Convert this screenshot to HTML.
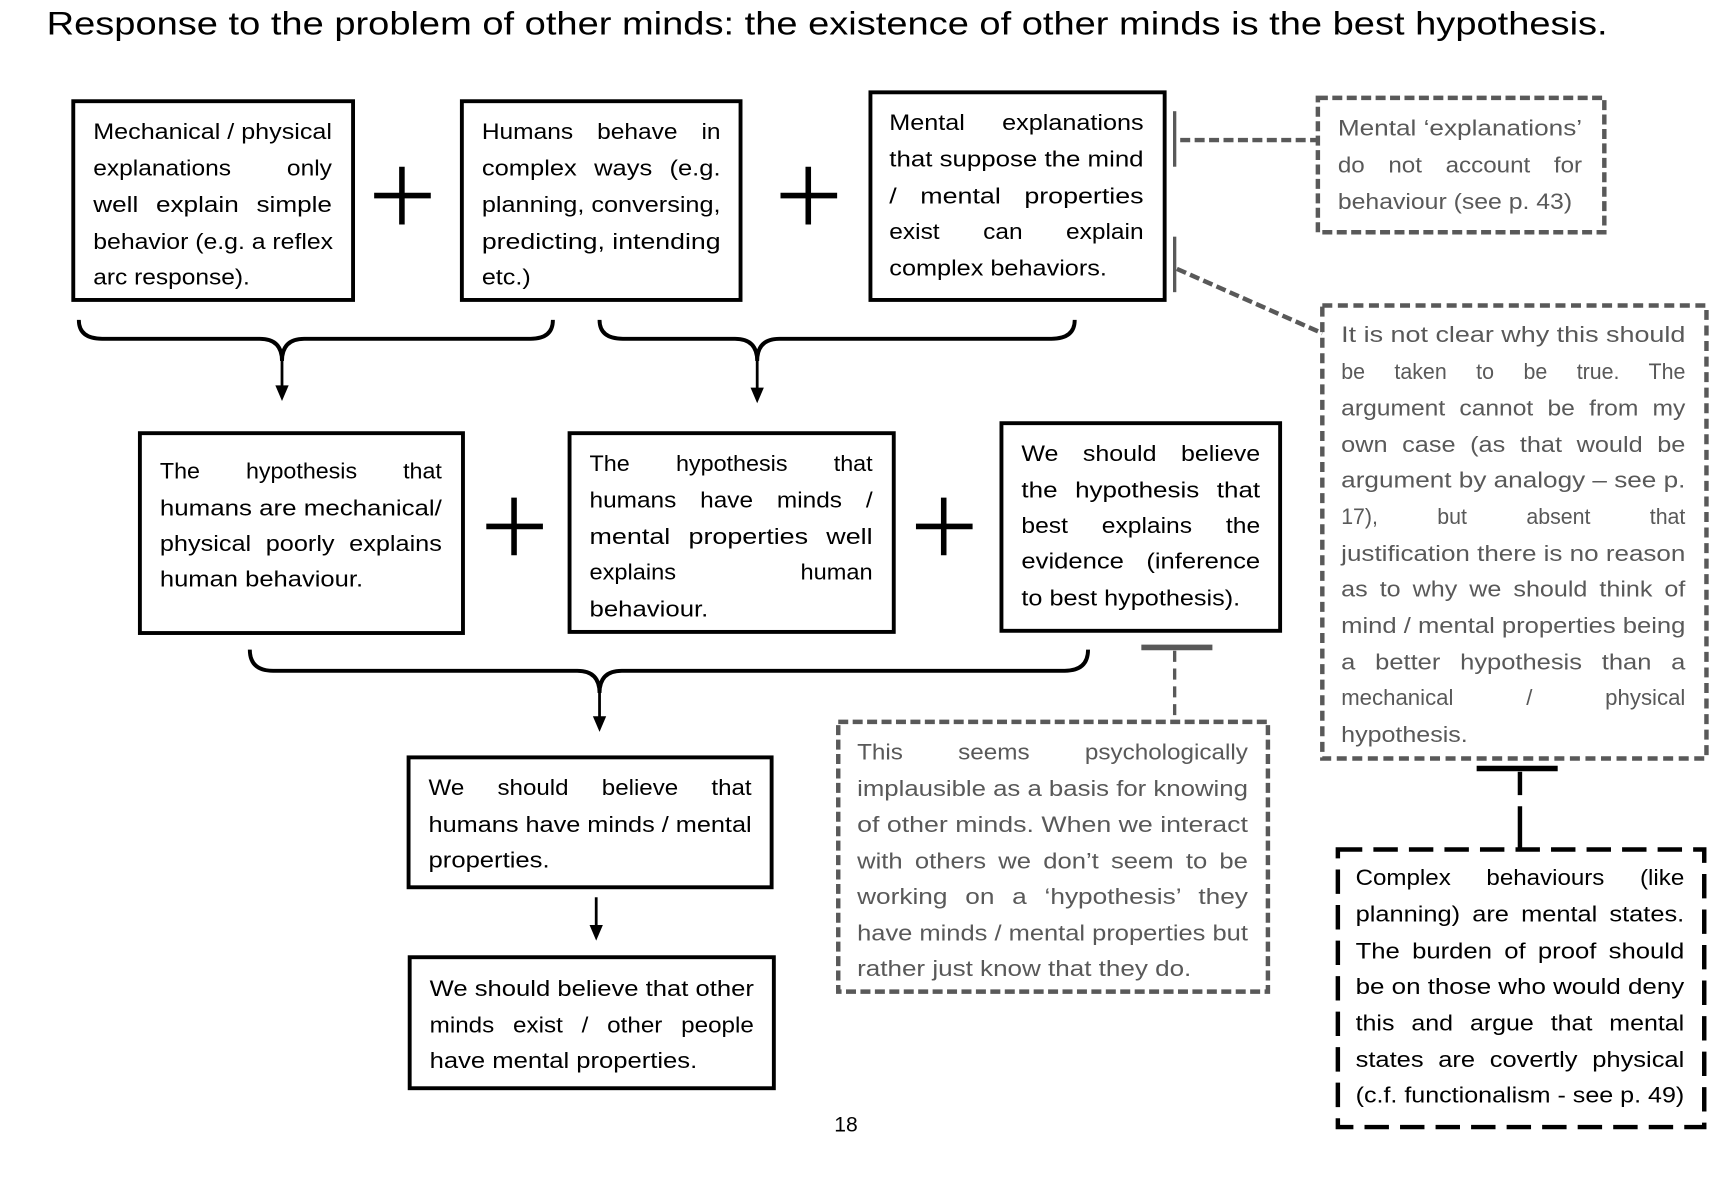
<!DOCTYPE html>
<html><head><meta charset="utf-8"><style>
html,body{margin:0;padding:0;background:#fff;}
svg{display:block;}
text{font-family:"Liberation Sans",sans-serif;font-size:20px;fill:#000;}
.g text,text.g{fill:#595959;}
</style></head><body>
<svg width="1732" height="1185" viewBox="0 0 1560 1067" xmlns="http://www.w3.org/2000/svg">
<rect x="0" y="0" width="1560" height="1067" fill="#fff"/>
<text x="42" y="31" style="font-size:29px" textLength="1406" lengthAdjust="spacingAndGlyphs">Response to the problem of other minds: the existence of other minds is the best hypothesis.</text>

<!-- solid boxes -->
<g fill="none" stroke="#000" stroke-width="3.5">
<rect x="66" y="91" width="252" height="179"/>
<rect x="416" y="91" width="251" height="179"/>
<rect x="784" y="83" width="265" height="187"/>
<rect x="126" y="390" width="291" height="180"/>
<rect x="513" y="390" width="292" height="179"/>
<rect x="902" y="381" width="251" height="187"/>
<rect x="368" y="682" width="327" height="117"/>
<rect x="369" y="862" width="328" height="118"/>
</g>
<!-- plus signs -->
<g stroke="#000" stroke-width="5">
<line x1="337" y1="176" x2="388" y2="176"/><line x1="362" y1="150" x2="362" y2="202"/>
<line x1="703" y1="176" x2="754" y2="176"/><line x1="728" y1="150" x2="728" y2="202"/>
<line x1="438" y1="474" x2="489" y2="474"/><line x1="463" y1="448" x2="463" y2="500"/>
<line x1="825" y1="474" x2="876" y2="474"/><line x1="850" y1="448" x2="850" y2="500"/>
</g>
<!-- braces -->
<g fill="none" stroke="#000" stroke-width="3.5">
<path d="M71,288 Q71,305 92,305 L234,305 Q254,305 254,325 Q254,305 274,305 L478,305 Q498,305 498,288"/>
<path d="M540,288 Q540,305 561,305 L662,305 Q682,305 682,325 Q682,305 702,305 L947,305 Q968,305 968,288"/>
<path d="M225,585 Q225,604 246,604 L520,604 Q540,604 540,624 Q540,604 560,604 L959,604 Q980,604 980,585"/>
<line x1="254" y1="320" x2="254" y2="350" stroke-width="2.5"/>
<line x1="682" y1="320" x2="682" y2="352" stroke-width="2.5"/>
<line x1="540" y1="620" x2="540" y2="648" stroke-width="2.5"/>
<line x1="537" y1="808" x2="537" y2="836" stroke-width="2.5"/>
</g>
<g fill="#000">
<polygon points="248,347 260,347 254,361"/>
<polygon points="676,349 688,349 682,363"/>
<polygon points="534,645 546,645 540,659"/>
<polygon points="531,833 543,833 537,847"/>
</g>

<!-- gray connectors -->
<g stroke="#595959" fill="none">
<line x1="1058" y1="100" x2="1058" y2="150" stroke-width="3"/>
<line x1="1058" y1="213" x2="1058" y2="263" stroke-width="3"/>
<line x1="1063" y1="126" x2="1187" y2="126" stroke-width="4" stroke-dasharray="9,4"/>
<line x1="1060" y1="242" x2="1191" y2="300" stroke-width="4" stroke-dasharray="9,4"/>
<line x1="1028" y1="583" x2="1092" y2="583" stroke-width="5"/>
<line x1="1058" y1="586" x2="1058" y2="650" stroke-width="3" stroke-dasharray="10,6"/>
<rect x="1187" y="88" width="258" height="121" stroke-width="4" stroke-dasharray="9,4"/>
<rect x="1191" y="275" width="346" height="408" stroke-width="4" stroke-dasharray="9,5"/>
<rect x="755" y="650" width="387" height="243" stroke-width="4" stroke-dasharray="9,4"/>
</g>
<g stroke="#000" fill="none">
<line x1="1330" y1="692" x2="1403" y2="692" stroke-width="5"/>
<line x1="1369" y1="695" x2="1369" y2="716" stroke-width="4"/>
<line x1="1369" y1="726" x2="1369" y2="765" stroke-width="4"/>
<rect x="1205" y="765" width="330" height="250" stroke-width="4" stroke-dasharray="22,10"/>
</g>

<!-- box1 -->
<text x="84" y="125" textLength="215" lengthAdjust="spacingAndGlyphs">Mechanical / physical</text>
<text x="84" y="158" textLength="215" lengthAdjust="spacingAndGlyphs" word-spacing="40">explanations only</text>
<text x="84" y="191" textLength="215" lengthAdjust="spacingAndGlyphs" word-spacing="8">well explain simple</text>
<text x="84" y="224" textLength="216" lengthAdjust="spacingAndGlyphs">behavior (e.g. a reflex</text>
<text x="84" y="256" textLength="141" lengthAdjust="spacingAndGlyphs">arc response).</text>
<!-- box2 -->
<text x="434" y="125" textLength="215" lengthAdjust="spacingAndGlyphs" word-spacing="14">Humans behave in</text>
<text x="434" y="158" textLength="215" lengthAdjust="spacingAndGlyphs" word-spacing="8">complex ways (e.g.</text>
<text x="434" y="191" textLength="215" lengthAdjust="spacingAndGlyphs">planning, conversing,</text>
<text x="434" y="224" textLength="215" lengthAdjust="spacingAndGlyphs">predicting, intending</text>
<text x="434" y="256" textLength="44" lengthAdjust="spacingAndGlyphs">etc.)</text>
<!-- box3 -->
<text x="801" y="117" textLength="229" lengthAdjust="spacingAndGlyphs" word-spacing="24">Mental explanations</text>
<text x="801" y="150" textLength="229" lengthAdjust="spacingAndGlyphs">that suppose the mind</text>
<text x="801" y="183" textLength="229" lengthAdjust="spacingAndGlyphs" word-spacing="12">/ mental properties</text>
<text x="801" y="215" textLength="229" lengthAdjust="spacingAndGlyphs" word-spacing="30">exist can explain</text>
<text x="801" y="248" textLength="196" lengthAdjust="spacingAndGlyphs">complex behaviors.</text>
<!-- box7 -->
<text x="144" y="431" textLength="254" lengthAdjust="spacingAndGlyphs" word-spacing="34">The hypothesis that</text>
<text x="144" y="464" textLength="254" lengthAdjust="spacingAndGlyphs">humans are mechanical/</text>
<text x="144" y="496" textLength="254" lengthAdjust="spacingAndGlyphs" word-spacing="6">physical poorly explains</text>
<text x="144" y="528" textLength="183" lengthAdjust="spacingAndGlyphs">human behaviour.</text>
<!-- box8 -->
<text x="531" y="424" textLength="255" lengthAdjust="spacingAndGlyphs" word-spacing="34">The hypothesis that</text>
<text x="531" y="457" textLength="255" lengthAdjust="spacingAndGlyphs" word-spacing="14">humans have minds /</text>
<text x="531" y="490" textLength="255" lengthAdjust="spacingAndGlyphs" word-spacing="8">mental properties well</text>
<text x="531" y="522" textLength="255" lengthAdjust="spacingAndGlyphs" word-spacing="100">explains human</text>
<text x="531" y="555" textLength="107" lengthAdjust="spacingAndGlyphs">behaviour.</text>
<!-- box9 -->
<text x="920" y="415" textLength="215" lengthAdjust="spacingAndGlyphs" word-spacing="14">We should believe</text>
<text x="920" y="448" textLength="215" lengthAdjust="spacingAndGlyphs" word-spacing="8">the hypothesis that</text>
<text x="920" y="480" textLength="215" lengthAdjust="spacingAndGlyphs" word-spacing="22">best explains the</text>
<text x="920" y="512" textLength="215" lengthAdjust="spacingAndGlyphs" word-spacing="12">evidence (inference</text>
<text x="920" y="545" textLength="197" lengthAdjust="spacingAndGlyphs">to best hypothesis).</text>
<!-- box11 -->
<text x="386" y="716" textLength="291" lengthAdjust="spacingAndGlyphs" word-spacing="22">We should believe that</text>
<text x="386" y="749" textLength="291" lengthAdjust="spacingAndGlyphs">humans have minds / mental</text>
<text x="386" y="781" textLength="109" lengthAdjust="spacingAndGlyphs">properties.</text>
<!-- box12 -->
<text x="387" y="897" textLength="292" lengthAdjust="spacingAndGlyphs">We should believe that other</text>
<text x="387" y="930" textLength="292" lengthAdjust="spacingAndGlyphs" word-spacing="10">minds exist / other people</text>
<text x="387" y="962" textLength="241" lengthAdjust="spacingAndGlyphs">have mental properties.</text>

<g class="g">
<!-- box4 -->
<text x="1205" y="122" textLength="220" lengthAdjust="spacingAndGlyphs">Mental ‘explanations’</text>
<text x="1205" y="155" textLength="220" lengthAdjust="spacingAndGlyphs" word-spacing="14">do not account for</text>
<text x="1205" y="188" textLength="211" lengthAdjust="spacingAndGlyphs">behaviour (see p. 43)</text>
<!-- box5 -->
<text x="1208" y="308" textLength="310" lengthAdjust="spacingAndGlyphs">It is not clear why this should</text>
<text x="1208" y="341" textLength="310" lengthAdjust="spacingAndGlyphs" word-spacing="22">be taken to be true. The</text>
<text x="1208" y="374" textLength="310" lengthAdjust="spacingAndGlyphs" word-spacing="6">argument cannot be from my</text>
<text x="1208" y="407" textLength="310" lengthAdjust="spacingAndGlyphs" word-spacing="6">own case (as that would be</text>
<text x="1208" y="439" textLength="310" lengthAdjust="spacingAndGlyphs">argument by analogy – see p.</text>
<text x="1208" y="472" textLength="310" lengthAdjust="spacingAndGlyphs" word-spacing="50">17), but absent that</text>
<text x="1208" y="505" textLength="310" lengthAdjust="spacingAndGlyphs">justification there is no reason</text>
<text x="1208" y="537" textLength="310" lengthAdjust="spacingAndGlyphs" word-spacing="4">as to why we should think of</text>
<text x="1208" y="570" textLength="310" lengthAdjust="spacingAndGlyphs">mind / mental properties being</text>
<text x="1208" y="603" textLength="310" lengthAdjust="spacingAndGlyphs" word-spacing="10">a better hypothesis than a</text>
<text x="1208" y="635" textLength="310" lengthAdjust="spacingAndGlyphs" word-spacing="60">mechanical / physical</text>
<text x="1208" y="668" textLength="114" lengthAdjust="spacingAndGlyphs">hypothesis.</text>
<!-- box10 -->
<text x="772" y="684" textLength="352" lengthAdjust="spacingAndGlyphs" word-spacing="40">This seems psychologically</text>
<text x="772" y="717" textLength="352" lengthAdjust="spacingAndGlyphs">implausible as a basis for knowing</text>
<text x="772" y="749" textLength="352" lengthAdjust="spacingAndGlyphs">of other minds. When we interact</text>
<text x="772" y="782" textLength="352" lengthAdjust="spacingAndGlyphs" word-spacing="4">with others we don’t seem to be</text>
<text x="772" y="814" textLength="352" lengthAdjust="spacingAndGlyphs" word-spacing="8">working on a ‘hypothesis’ they</text>
<text x="772" y="847" textLength="352" lengthAdjust="spacingAndGlyphs">have minds / mental properties but</text>
<text x="772" y="879" textLength="301" lengthAdjust="spacingAndGlyphs">rather just know that they do.</text>
</g>
<!-- box6 -->
<text x="1221" y="797" textLength="296" lengthAdjust="spacingAndGlyphs" word-spacing="24">Complex behaviours (like</text>
<text x="1221" y="830" textLength="296" lengthAdjust="spacingAndGlyphs" word-spacing="4">planning) are mental states.</text>
<text x="1221" y="863" textLength="296" lengthAdjust="spacingAndGlyphs" word-spacing="4">The burden of proof should</text>
<text x="1221" y="895" textLength="296" lengthAdjust="spacingAndGlyphs">be on those who would deny</text>
<text x="1221" y="928" textLength="296" lengthAdjust="spacingAndGlyphs" word-spacing="8">this and argue that mental</text>
<text x="1221" y="961" textLength="296" lengthAdjust="spacingAndGlyphs" word-spacing="6">states are covertly physical</text>
<text x="1221" y="993" textLength="296" lengthAdjust="spacingAndGlyphs">(c.f. functionalism - see p. 49)</text>

<text x="762" y="1019" text-anchor="middle" style="font-size:19px">18</text>
</svg>
</body></html>
